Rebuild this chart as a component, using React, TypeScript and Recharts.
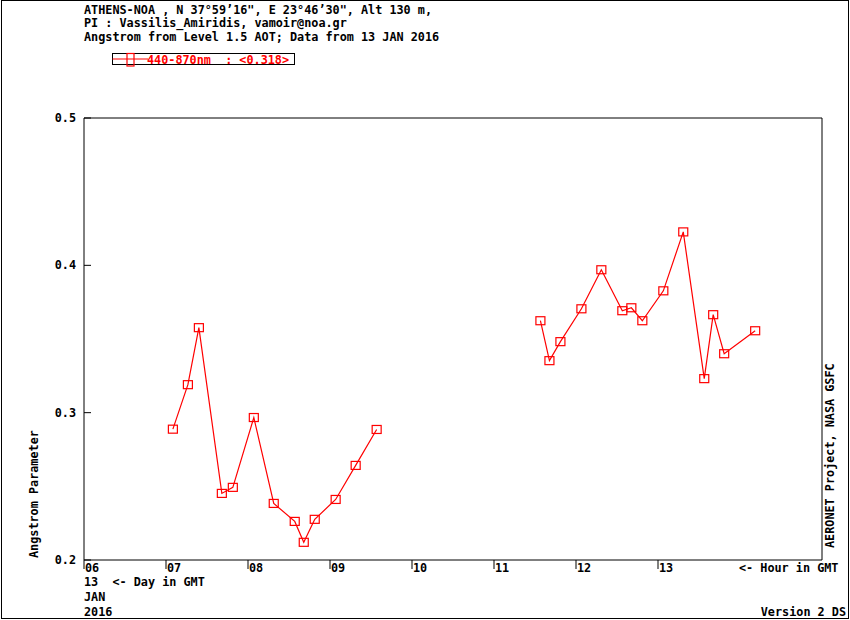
import React from "react";
import { LineChart, Line, XAxis, YAxis, ReferenceLine } from "recharts";

const hours: number[] = [
  7.084, 7.267, 7.401, 7.681, 7.815, 8.071, 8.314, 8.57, 8.68, 8.814, 9.069, 9.313, 9.569,
  10.5,
  11.566, 11.676, 11.81, 12.066, 12.309, 12.565, 12.675, 12.809, 13.065, 13.308, 13.564, 13.673, 13.807, 14.185,
];
const angstrom: (number | null)[] = [
  0.2888, 0.319, 0.3577, 0.2452, 0.2493, 0.2967, 0.2384, 0.2262, 0.212, 0.2276, 0.2411, 0.2642, 0.2886,
  null,
  0.3624, 0.3353, 0.3482, 0.3705, 0.397, 0.3692, 0.3712, 0.3624, 0.3827, 0.4227, 0.3231, 0.3665, 0.34, 0.3556,
];
const xTicks: number[] = [6, 7, 8, 9, 10, 11, 12, 13];
const yTicks: number[] = [0.2, 0.3, 0.4, 0.5];
const xDomain: [number, number] = [6, 15];
const yDomain: [number, number] = [0.2, 0.5];
const headerLines: string[] = [
  "ATHENS-NOA , N 37\u00b059\u201916\", E 23\u00b046\u201930\", Alt 130 m,",
  "PI : Vassilis_Amiridis, vamoir@noa.gr",
  "Angstrom from Level 1.5 AOT; Data from 13 JAN 2016",
];
const legendLabel = "440-870nm  : <0.318>";

const data = hours.map((h, i) => ({ hour: h, value: angstrom[i] }));

const FONT = "'DejaVu Sans Mono', monospace";
const FS = 11.8;
const RED = "#ff0000";

const XTick = (props: any) => {
  const { x, y, payload } = props;
  return (
    <g>
      <line x1={x} y1={y} x2={x} y2={y + 9} stroke="#000" strokeWidth={1} />
      <text x={x + 1} y={y + 11.5} fontFamily={FONT} fontWeight="bold" fontSize={FS} fill="#000">
        {String(payload.value).padStart(2, "0")}
      </text>
    </g>
  );
};

const YTick = (props: any) => {
  const { x, y, payload } = props;
  return (
    <g>
      <line x1={x} y1={y} x2={x + 7} y2={y} stroke="#000" strokeWidth={1} />
      <text x={x - 8} y={y + 4} textAnchor="end" fontFamily={FONT} fontWeight="bold" fontSize={FS} fill="#000">
        {payload.value.toFixed(1)}
      </text>
    </g>
  );
};

const SquareDot = (props: any) => {
  const { cx, cy, index } = props;
  if (cx == null || cy == null || props.value == null || (props.payload && props.payload.value == null)) {
    return <g key={`d${index}`} />;
  }
  return (
    <rect key={`d${index}`} x={cx - 4.5} y={cy - 4} width={9} height={8} fill="none" stroke={RED} strokeWidth={1.2} />
  );
};

export default function App() {
  const T = (p: any) => (
    <text fontFamily={FONT} fontWeight="bold" fontSize={FS} fill="#000" style={{ whiteSpace: "pre" }} xmlSpace="preserve" {...p} />
  );
  return (
    <div style={{ position: "absolute", left: 0, top: 0, width: 850, height: 620, background: "#fff" }}>
      <LineChart
        width={850}
        height={620}
        data={data}
        margin={{ top: 118, right: 28, bottom: 30, left: 0 }}
      >
        <XAxis
          dataKey="hour"
          type="number"
          domain={xDomain}
          ticks={xTicks}
          tick={<XTick />}
          tickLine={false}
          tickSize={0}
          tickMargin={0}
          height={30}
          axisLine={{ stroke: "#000", strokeWidth: 1 }}
          allowDataOverflow
          interval={0}
        />
        <YAxis
          type="number"
          domain={yDomain}
          ticks={yTicks}
          tick={<YTick />}
          tickLine={false}
          tickSize={0}
          tickMargin={0}
          width={84}
          axisLine={{ stroke: "#000", strokeWidth: 1 }}
          interval={0}
        />
        <ReferenceLine y={yDomain[1]} stroke="#000" strokeWidth={1} ifOverflow="extendDomain" />
        <ReferenceLine x={xDomain[1]} stroke="#000" strokeWidth={1} ifOverflow="extendDomain" />
        <Line
          type="linear"
          dataKey="value"
          stroke={RED}
          strokeWidth={1.2}
          connectNulls={false}
          dot={<SquareDot />}
          activeDot={false}
          isAnimationActive={false}
        />
      </LineChart>
      <svg
        width={850}
        height={620}
        style={{ position: "absolute", left: 0, top: 0, pointerEvents: "none" }}
      >
        <rect x={1.5} y={0.5} width={847} height={618} fill="none" stroke="#000" strokeWidth={1} />
        {headerLines.map((t, i) => (
          <T key={i} x={84} y={13.5 + i * 13.6}>{t}</T>
        ))}
        <rect x={112.5} y={53.5} width={182} height={11} fill="none" stroke="#000" strokeWidth={1} />
        <line x1={112.5} y1={59} x2={148} y2={59} stroke={RED} strokeWidth={1.2} />
        <rect x={127} y={53.5} width={7} height={12.5} fill="none" stroke={RED} strokeWidth={1.2} />
        <T x={147} y={63.5} fill={RED}>{legendLabel}</T>
        <T x={84} y={586}>{"13  <- Day in GMT"}</T>
        <T x={84} y={601}>JAN</T>
        <T x={84} y={616}>2016</T>
        <T x={739} y={571.5}>{"<- Hour in GMT"}</T>
        <T x={846} y={616} textAnchor="end">Version 2 DS</T>
        <T x={38} y={558} transform="rotate(-90 38 558)">Angstrom Parameter</T>
        <T x={834} y={548} transform="rotate(-90 834 548)">AERONET Project, NASA GSFC</T>
      </svg>
    </div>
  );
}
